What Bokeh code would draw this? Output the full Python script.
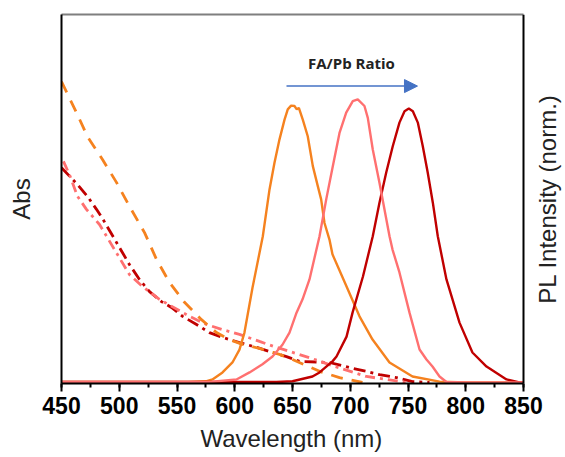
import math
from bokeh.plotting import figure
from bokeh.models import Range1d, LinearAxis, FixedTicker, SingleIntervalTicker, Arrow, NormalHead, Label, Span, Title
from bokeh.embed import file_html
from bokeh.resources import INLINE

# ---- data ----
# PL spectra (normalised)
pl_orange_x = [450, 500, 560, 575, 580.7, 589.4, 598, 604.1, 608.4, 615.4, 624.3, 630.1, 634.4, 638.7, 643.1, 645.9, 648.8, 651.7, 653.7, 655.5, 658.9, 663.2, 667.6, 671.9, 674.8, 677.7, 682, 684.6, 696.8, 708, 719.3, 734, 753.9, 777.3, 800.8, 850]
pl_orange_y = [0.004, 0.004, 0.004, 0.006, 0.011, 0.030, 0.057, 0.092, 0.138, 0.260, 0.399, 0.526, 0.598, 0.661, 0.715, 0.743, 0.753, 0.752, 0.743, 0.747, 0.715, 0.670, 0.589, 0.535, 0.499, 0.435, 0.390, 0.350, 0.263, 0.182, 0.119, 0.057, 0.019, 0.005, 0.003, 0.003]

pl_pink_x = [450, 520, 570, 580.7, 601.5, 612.8, 624, 632.7, 641.3, 647.4, 653.5, 658.7, 664.7, 673.4, 679.2, 684.9, 690.7, 696.5, 702.2, 706.5, 712.3, 715.2, 719.5, 725.3, 729.6, 734, 736.6, 742.6, 751.3, 760, 766, 771.2, 777.3, 783.3, 800, 850]
pl_pink_y = [0.004, 0.004, 0.004, 0.005, 0.011, 0.030, 0.052, 0.073, 0.105, 0.138, 0.192, 0.228, 0.282, 0.399, 0.499, 0.589, 0.679, 0.734, 0.765, 0.770, 0.752, 0.720, 0.634, 0.544, 0.472, 0.399, 0.363, 0.301, 0.192, 0.092, 0.065, 0.046, 0.019, 0.004, 0.003, 0.003]

pl_red_x = [450, 600, 636, 650, 667.3, 673.4, 684.6, 688.1, 696.8, 702, 711, 719.5, 725.3, 731.1, 736.8, 742.6, 747, 750.7, 754.2, 758.5, 762.8, 767.1, 771.5, 775.8, 783.3, 794.6, 805.8, 818, 835.3, 846.5, 850]
pl_red_y = [0.004, 0.004, 0.004, 0.006, 0.019, 0.030, 0.060, 0.073, 0.127, 0.192, 0.290, 0.399, 0.490, 0.571, 0.643, 0.707, 0.738, 0.745, 0.738, 0.707, 0.643, 0.571, 0.490, 0.399, 0.282, 0.165, 0.084, 0.046, 0.011, 0.003, 0.003]

# Absorption spectra (arb.)
abs_orange_x = [450, 463, 472.5, 485.5, 497.6, 508.9, 521.9, 532.3, 543.5, 556.5, 571.2, 584.2, 595.5, 606.7, 621.4, 638.7, 650, 673.4, 690.7, 710.6]
abs_orange_y = [0.818, 0.734, 0.669, 0.607, 0.545, 0.480, 0.409, 0.336, 0.274, 0.220, 0.173, 0.138, 0.119, 0.106, 0.095, 0.079, 0.065, 0.033, 0.016, 0.003]

abs_pink_x = [451.7, 456.9, 463.9, 471.6, 482.9, 508.9, 520.1, 534.8, 560.8, 575.5, 589.4, 604.1, 621.4, 636.1, 647.4, 664.7, 682, 714, 731.4, 748.7]
abs_pink_y = [0.602, 0.566, 0.507, 0.472, 0.431, 0.295, 0.263, 0.228, 0.182, 0.160, 0.146, 0.133, 0.114, 0.098, 0.087, 0.070, 0.051, 0.019, 0.011, 0.003]

abs_red_x = [450, 463.9, 472.5, 480.3, 485.5, 508.9, 517.5, 526.2, 536.6, 545.2, 554.8, 566.9, 578.1, 589.4, 604.1, 618.8, 632.7, 644.8, 656, 682, 699.4, 714, 725.3, 740, 754, 768.6]
abs_red_y = [0.585, 0.539, 0.507, 0.472, 0.447, 0.322, 0.282, 0.249, 0.222, 0.206, 0.182, 0.160, 0.138, 0.125, 0.111, 0.098, 0.084, 0.073, 0.060, 0.057, 0.043, 0.033, 0.024, 0.016, 0.005, 0.003]

X_MIN, X_MAX = 450, 850
annot_text = "FA/Pb Ratio"
arrow_x = [644.8, 758.2]
arrow_y = 0.806
annot_pos = (701, 0.868)
x_label = "Wavelength (nm)"
left_label = "Abs"
right_label = "PL Intensity (norm.)"

ORANGE = "#F5821F"
PINK = "#FF7070"
RED = "#C00000"
BLUE = "#4472C4"

PLOT_W = 462          # width of the data area in px
EXTRA_W = 40          # room for the right-hand label inside the frame
px_per_nm = PLOT_W / (X_MAX - X_MIN)
x_end = X_MAX + EXTRA_W / px_per_nm

p = figure(frame_width=PLOT_W + EXTRA_W, frame_height=369, output_backend="svg", toolbar_location=None,
           x_range=Range1d(X_MIN, x_end), y_range=Range1d(0, 1),
           min_border_left=61, min_border_top=14, min_border_right=0, min_border_bottom=0)
p.background_fill_color = "white"
p.border_fill_color = "white"
p.grid.visible = False
p.outline_line_color = None

# absorption
p.line(abs_red_x, abs_red_y, line_color=RED, line_width=2.8, line_dash="12 5 3 5")
p.line(abs_pink_x, abs_pink_y, line_color=PINK, line_width=2.8, line_dash="10 5 3 5")
p.line(abs_orange_x, abs_orange_y, line_color=ORANGE, line_width=2.8, line_dash="12 9")
# PL
p.line(pl_orange_x, pl_orange_y, line_color=ORANGE, line_width=2.4)
p.line(pl_red_x, pl_red_y, line_color=RED, line_width=2.4)
p.line(pl_pink_x, pl_pink_y, line_color=PINK, line_width=2.4)

# x axis
xa = p.xaxis[0]
xa.bounds = (X_MIN, X_MAX)
xa.ticker = SingleIntervalTicker(interval=50, num_minor_ticks=2)
xa.major_label_text_font = "Liberation Sans"
xa.major_label_text_font_size = "23px"
xa.major_label_text_font_style = "bold"
xa.major_label_text_color = "black"
xa.major_label_standoff = 5
xa.major_tick_in = 0
xa.major_tick_out = 8
xa.minor_tick_in = 0
xa.minor_tick_out = 4
xa.axis_line_width = 2
xa.major_tick_line_width = 2
xa.minor_tick_line_width = 2
xa.axis_line_color = "black"

# x-axis title, centred under the 450-850 data area
p.add_layout(Title(text=x_label, align="left", offset=139, standoff=12,
                   text_font="Liberation Sans", text_font_size="24px",
                   text_font_style="normal", text_color="#222222"), "below")

# left axis
ya = p.yaxis[0]
ya.ticker = FixedTicker(ticks=[])
ya.axis_label = left_label
ya.axis_label_text_font = "Liberation Sans"
ya.axis_label_text_font_size = "24px"
ya.axis_label_text_font_style = "normal"
ya.axis_label_text_color = "#222222"
ya.axis_label_standoff = 27
ya.axis_line_width = 2
ya.axis_line_color = "black"
ya.major_tick_line_color = None
ya.minor_tick_line_color = None

# top border (grey), limited to the data area
ta = LinearAxis(ticker=FixedTicker(ticks=[]), bounds=(X_MIN, X_MAX))
ta.axis_line_width = 2
ta.axis_line_color = "#7f7f7f"
ta.major_tick_line_color = None
ta.minor_tick_line_color = None
ta.major_label_text_font_size = "0px"
p.add_layout(ta, "above")

# right border (black)
p.add_layout(Span(location=X_MAX, dimension="height", line_color="black", line_width=2))

# right-side label, reading bottom-to-top
p.add_layout(Label(x=X_MAX, y=0.5, x_offset=24, text=right_label, angle=math.pi / 2,
                   text_align="center", text_baseline="middle", text_font="Liberation Sans",
                   text_font_size="24px", text_color="#222222"))

# annotation
p.add_layout(Arrow(end=NormalHead(size=13, fill_color=BLUE, line_color=BLUE),
                   x_start=arrow_x[0], y_start=arrow_y, x_end=arrow_x[1], y_end=arrow_y,
                   line_color=BLUE, line_width=1.5))
p.add_layout(Label(x=annot_pos[0], y=annot_pos[1], text=annot_text, text_align="center",
                   text_baseline="middle", text_font="Open Sans", text_font_style="bold",
                   text_font_size="15px", text_color="#222222"))

open("out.html", "w").write(file_html(p, INLINE))
